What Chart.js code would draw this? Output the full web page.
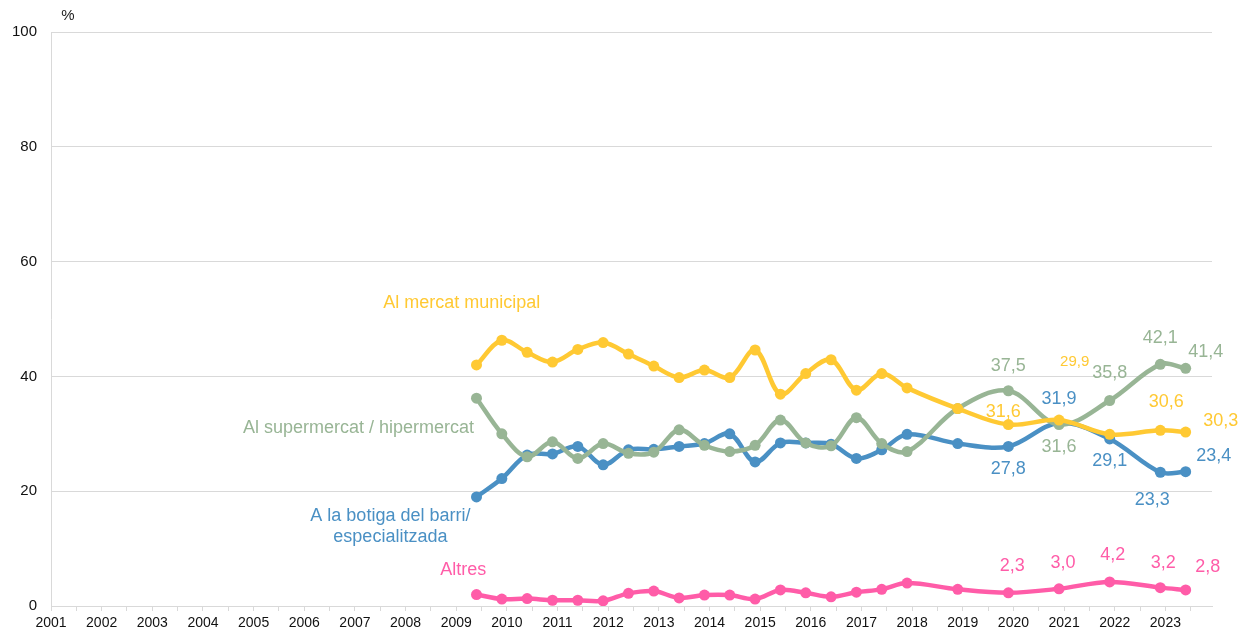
<!DOCTYPE html>
<html>
<head>
    <title>On compra</title>
    <script src="https://cdn.jsdelivr.net/npm/chart.js"></script>
    <style>
        body { margin: 0; background: #fff; }
        #wrap { width: 1241px; height: 632px; }
    </style>
</head>
<body>
    <div id="wrap"><canvas id="shopChart" width="1241" height="632"></canvas></div>

    <script>
        // survey dates (two waves a year until 2017, then yearly)
        const surveyDates = [2009.4, 2009.9, 2010.4, 2010.9, 2011.4, 2011.9, 2012.4, 2012.9,
            2013.4, 2013.9, 2014.4, 2014.9, 2015.4, 2015.9, 2016.4, 2016.9, 2017.4, 2017.9,
            2018.9, 2019.9, 2020.9, 2021.9, 2022.9, 2023.4];

        const mercatMunicipal = [42.0, 46.3, 44.2, 42.5, 44.7, 45.9, 43.9, 41.8, 39.8, 41.1, 39.8, 44.6,
            36.9, 40.5, 42.9, 37.6, 40.5, 38.0, 34.4, 31.6, 32.4, 29.9, 30.6, 30.3];
        const supermercat = [36.2, 30.0, 26.0, 28.6, 25.7, 28.3, 26.6, 26.8, 30.7, 28.0, 26.9, 28.0,
            32.4, 28.4, 27.9, 32.8, 28.3, 26.9, 34.4, 37.5, 31.6, 35.8, 42.1, 41.4];
        const botigaBarri = [19.0, 22.2, 26.3, 26.5, 27.8, 24.6, 27.2, 27.3, 27.8, 28.3, 30.0, 25.1,
            28.4, 28.4, 28.2, 25.7, 27.2, 29.9, 28.3, 27.8, 31.9, 29.1, 23.3, 23.4];
        const altres = [2.0, 1.2, 1.3, 1.0, 1.0, 0.9, 2.2, 2.6, 1.4, 1.9, 1.9, 1.2,
            2.8, 2.3, 1.6, 2.4, 2.9, 4.0, 2.9, 2.3, 3.0, 4.2, 3.2, 2.8];

        const yTicks = [0, 20, 40, 60, 80, 100];
        const firstYear = 2001;
        const lastYear = 2023;

        const colors = {
            mercat: '#FFC933',
            super: '#98B595',
            botiga: '#4A90C4',
            altres: '#FF5CA8'
        };

        const font = 'Liberation Sans, Arial, sans-serif';

        // value labels: dataset index, point index, pixel offset from the point
        const valueLabels = [
            { ds: 0, i: 19, dx: -5, dy: -13 },
            { ds: 0, i: 21, dx: -35, dy: -73, size: 15 },
            { ds: 0, i: 22, dx: 6, dy: -28 },
            { ds: 0, i: 23, dx: 35, dy: -11 },
            { ds: 1, i: 19, dx: 0, dy: -25 },
            { ds: 1, i: 20, dx: 0, dy: 22 },
            { ds: 1, i: 21, dx: 0, dy: -27 },
            { ds: 1, i: 22, dx: 0, dy: -26 },
            { ds: 1, i: 23, dx: 20, dy: -16 },
            { ds: 2, i: 19, dx: 0, dy: 23 },
            { ds: 2, i: 20, dx: 0, dy: -24 },
            { ds: 2, i: 21, dx: 0, dy: 22 },
            { ds: 2, i: 22, dx: -8, dy: 28 },
            { ds: 2, i: 23, dx: 28, dy: -16 },
            { ds: 3, i: 19, dx: 4, dy: -27 },
            { ds: 3, i: 20, dx: 4, dy: -26 },
            { ds: 3, i: 21, dx: 3, dy: -27 },
            { ds: 3, i: 22, dx: 3, dy: -25 },
            { ds: 3, i: 23, dx: 22, dy: -23 }
        ];

        // series names, placed in axis units
        const seriesNames = [
            { lines: ['Al mercat municipal'], x: 2009.11, y: 52.8, color: colors.mercat, align: 'center' },
            { lines: ['Al supermercat / hipermercat'], x: 2009.35, y: 31.0, color: colors.super, align: 'right' },
            { lines: ['A la botiga del barri/', 'especialitzada'], x: 2007.7, y: 15.75, color: colors.botiga, align: 'center' },
            { lines: ['Altres'], x: 2009.14, y: 6.2, color: colors.altres, align: 'center' }
        ];

        const toPoints = vals => vals.map((v, i) => ({ x: surveyDates[i], y: v }));

        const labelPlugin = {
            id: 'labels',
            afterDatasetsDraw(chart) {
                const ctx = chart.ctx;
                const xs = chart.scales.x, ys = chart.scales.y;
                ctx.save();
                ctx.textBaseline = 'middle';
                valueLabels.forEach(l => {
                    const ds = chart.data.datasets[l.ds];
                    const p = ds.data[l.i];
                    ctx.font = (l.size || 18) + 'px ' + font;
                    ctx.fillStyle = ds.borderColor;
                    ctx.textAlign = 'center';
                    ctx.fillText(p.y.toFixed(1).replace('.', ','),
                        xs.getPixelForValue(p.x) + l.dx, ys.getPixelForValue(p.y) + l.dy);
                });
                ctx.font = '18px ' + font;
                seriesNames.forEach(s => {
                    ctx.fillStyle = s.color;
                    ctx.textAlign = s.align;
                    const px = xs.getPixelForValue(s.x);
                    const py = ys.getPixelForValue(s.y);
                    s.lines.forEach((t, k) => ctx.fillText(t, px, py + k * 21));
                });
                ctx.fillStyle = '#222';
                ctx.textAlign = 'center';
                ctx.font = '15px ' + font;
                ctx.fillText('%', chart.chartArea.left + 17, chart.chartArea.top - 16);
                ctx.restore();
            }
        };

        const makeSet = (label, vals, color) => ({
            label: label,
            data: toPoints(vals),
            borderColor: color,
            backgroundColor: color,
            borderWidth: 4.5,
            pointRadius: 5.5,
            pointBorderWidth: 0,
            tension: 0.35
        });

        const ctx = document.getElementById('shopChart').getContext('2d');
        new Chart(ctx, {
            type: 'line',
            data: {
                datasets: [
                    makeSet('Al mercat municipal', mercatMunicipal, colors.mercat),
                    makeSet('Al supermercat / hipermercat', supermercat, colors.super),
                    makeSet('A la botiga del barri/ especialitzada', botigaBarri, colors.botiga),
                    makeSet('Altres', altres, colors.altres)
                ]
            },
            options: {
                responsive: false,
                animation: false,
                layout: { padding: { left: 0, right: 29, top: 32, bottom: 0 } },
                plugins: {
                    legend: { display: false },
                    tooltip: { enabled: false }
                },
                scales: {
                    x: {
                        type: 'linear',
                        min: firstYear,
                        max: 2023.92,
                        afterBuildTicks: scale => {
                            const t = [];
                            for (let v = firstYear; v <= lastYear + 0.5; v += 0.5) t.push({ value: v });
                            scale.ticks = t;
                        },
                        afterFit: scale => { scale.height = 26; },
                        grid: { drawOnChartArea: false, color: '#d9d9d9', tickLength: 5 },
                        border: { color: '#d9d9d9' },
                        ticks: {
                            autoSkip: false,
                            maxRotation: 0,
                            padding: 4,
                            color: '#111',
                            font: { family: font, size: 14 },
                            callback: v => Number.isInteger(v) ? String(v) : ''
                        }
                    },
                    y: {
                        min: 0,
                        max: 100,
                        afterBuildTicks: scale => { scale.ticks = yTicks.map(v => ({ value: v })); },
                        afterFit: scale => { scale.width = 51; },
                        grid: { color: '#d9d9d9', drawTicks: false },
                        border: { color: '#d9d9d9' },
                        ticks: {
                            padding: 14,
                            color: '#111',
                            font: { family: font, size: 15 }
                        }
                    }
                }
            },
            plugins: [labelPlugin]
        });
    </script>
</body>
</html>
